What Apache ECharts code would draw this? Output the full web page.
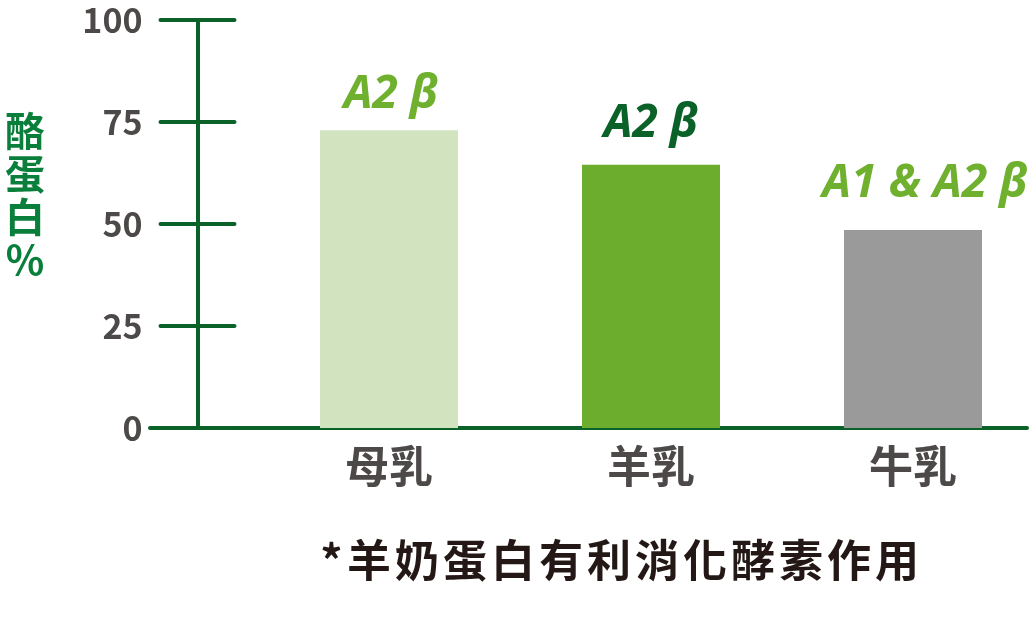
<!DOCTYPE html>
<html lang="zh-Hant">
<head>
<meta charset="UTF-8">
<title>酪蛋白%</title>
<style>
  html, body { margin: 0; padding: 0; background: #fff; }
  #main { width: 1036px; height: 628px; }
</style>
</head>
<body>
<div id="main"></div>
<script src="https://cdn.jsdelivr.net/npm/echarts@6/dist/echarts.min.js"></script>
<script>
  // 資料
  const categories = ['母乳', '羊乳', '牛乳'];
  const caseinValues = [73, 64.5, 48.5];
  const betaLabels = ['A2 β', 'A2 β', 'A1 & A2 β'];
  const yTicks = [0, 25, 50, 75, 100];
  const axisTitle = '酪蛋白%';
  const footnote = '*羊奶蛋白有利消化酵素作用';

  // 樣式
  const barColors = ['#d2e3c0', '#6dad2d', '#9a9a9a'];
  const labelColors = ['#6fb02e', '#0b6228', '#6fb02e'];
  const labelDistances = [12, 18, 23];
  const labelOffsets = [[2, 0], [0, 0], [12, 0]];
  const axisGreen = '#0b6228';
  const grayText = '#4c4948';
  const cjk = '"Noto Sans CJK TC", "Noto Sans CJK SC", sans-serif';

  // 註腳逐字排開（模擬字距）
  const footRich = footnote.split('').map(ch => (ch === '*' ? '{s|*}' : '{c|' + ch + '}')).join('');

  const myChart = echarts.init(document.getElementById('main'));

  const option = {
    animation: false,
    title: [{
      text: axisTitle.split('').join('\n'),
      left: 20,
      top: 104,
      textAlign: 'center',
      textStyle: {
        fontFamily: cjk,
        fontSize: 40,
        lineHeight: 43,
        fontWeight: 'bold',
        color: '#0a7f3c'
      }
    }, {
      text: footRich,
      left: 313,
      top: 533,
      textStyle: {
        rich: {
          c: { width: 48, align: 'center', fontFamily: cjk, fontSize: 44, fontWeight: 'bold', color: '#231815' },
          s: { width: 27, align: 'center', fontFamily: cjk, fontSize: 44, fontWeight: 'bold', color: '#231815' }
        }
      }
    }],
    grid: [
      // 類別點落在兩端，長條置中於刻度點
      { left: 389, top: 20, width: 524, height: 408 },
      { left: 150, top: 20, width: 877, height: 408 }
    ],
    xAxis: [{
      gridIndex: 0,
      type: 'category',
      boundaryGap: false,
      data: categories,
      axisLine: { show: false },
      axisTick: { show: false },
      axisLabel: {
        margin: 16,
        fontFamily: cjk,
        fontSize: 44,
        fontWeight: 'bold',
        color: grayText
      }
    }, {
      gridIndex: 1,
      type: 'value',
      min: 0,
      max: 1,
      axisLine: { show: true, lineStyle: { color: axisGreen, width: 4, cap: 'round' } },
      axisTick: { show: false },
      axisLabel: { show: false },
      splitLine: { show: false }
    }],
    yAxis: [{
      gridIndex: 0,
      type: 'value',
      min: yTicks[0],
      max: yTicks[yTicks.length - 1],
      interval: 25,
      offset: 191.5,
      axisLine: { show: true, lineStyle: { color: axisGreen, width: 4 } },
      axisTick: { show: true, length: 37, lineStyle: { color: axisGreen, width: 4, cap: 'round' } },
      axisLabel: {
        margin: 55,
        fontFamily: cjk,
        fontSize: 34,
        fontWeight: 'bold',
        color: grayText
      },
      splitLine: { show: false }
    }, {
      // 刻度線往右延伸的那一半
      gridIndex: 0,
      type: 'value',
      position: 'left',
      min: yTicks[0],
      max: yTicks[yTicks.length - 1],
      interval: 25,
      offset: 191.5,
      axisLine: { show: false },
      axisTick: { show: true, inside: true, length: 37, lineStyle: { color: axisGreen, width: 4, cap: 'round' } },
      axisLabel: { show: false },
      splitLine: { show: false }
    }, {
      gridIndex: 1,
      show: false,
      type: 'value'
    }],
    series: [{
      type: 'bar',
      xAxisIndex: 0,
      yAxisIndex: 0,
      barWidth: 138,
      data: caseinValues.map((v, i) => ({
        value: v,
        itemStyle: { color: barColors[i] },
        label: { color: labelColors[i], distance: labelDistances[i], offset: labelOffsets[i] }
      })),
      label: {
        show: true,
        position: 'top',
        formatter: p => betaLabels[p.dataIndex],
        fontFamily: '"Open Sans", sans-serif',
        fontStyle: 'italic',
        fontWeight: 'bold',
        fontSize: 46
      }
    }]
  };

  myChart.setOption(option);

  window.onresize = function () {
    myChart.resize();
  };
</script>
</body>
</html>
